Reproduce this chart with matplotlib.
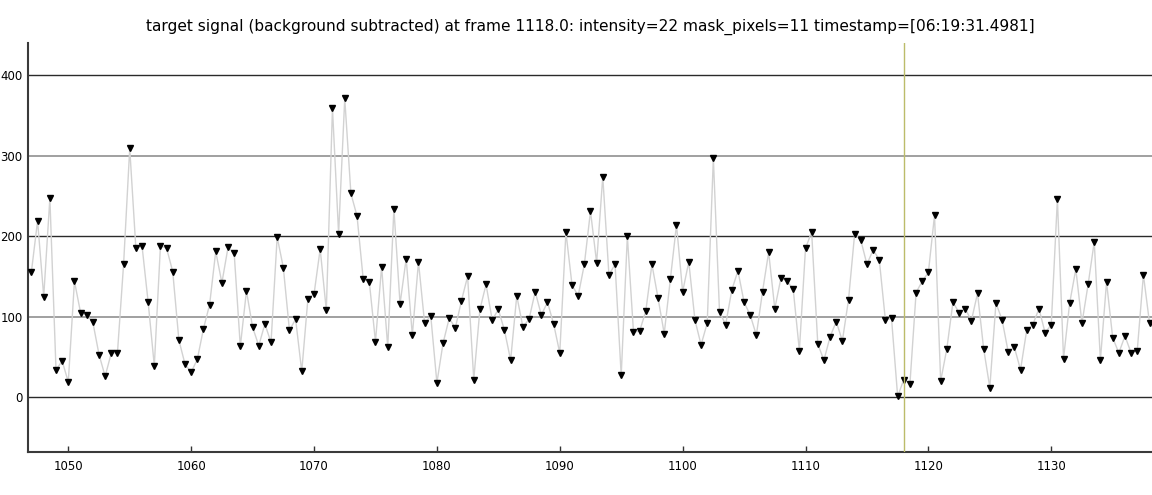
import numpy as np
import matplotlib
matplotlib.use('Agg')
import matplotlib.pyplot as plt

# frames (pas de 0.5) et intensites
frame_start = 1047.0
frame_step = 0.5
intensity = [
    156, 219, 125, 247, 34, 45, 19, 144, 105, 102,
    93, 53, 26, 55, 55, 165, 309, 185, 188, 118,
    39, 188, 185, 156, 71, 41, 31, 47, 85, 115,
    181, 142, 186, 179, 63, 132, 87, 64, 91, 68,
    199, 161, 83, 97, 32, 122, 128, 184, 108, 359,
    203, 371, 253, 225, 147, 143, 69, 162, 62, 234,
    116, 172, 77, 168, 92, 101, 18, 67, 98, 86,
    120, 150, 22, 109, 140, 96, 109, 83, 46, 126,
    87, 97, 131, 102, 118, 91, 55, 205, 139, 126,
    165, 231, 167, 274, 152, 165, 27, 200, 81, 82,
    107, 165, 123, 79, 147, 214, 131, 168, 96, 65,
    92, 297, 106, 90, 133, 157, 118, 102, 77, 131,
    180, 110, 148, 144, 134, 58, 185, 205, 66, 46,
    75, 94, 70, 121, 203, 195, 165, 183, 171, 96,
    98, 1, 22, 17, 130, 144, 155, 226, 20, 60,
    118, 105, 110, 95, 129, 60, 12, 117, 96, 56,
    62, 34, 83, 90, 110, 80, 90, 246, 48, 117,
    159, 92, 140, 193, 46, 143, 74, 55, 76, 55,
    58, 152, 92,
]
frames = frame_start + frame_step * np.arange(len(intensity))

current_frame = 1118.0
title = ('target signal (background subtracted) at frame 1118.0: '
         'intensity=22 mask_pixels=11 timestamp=[06:19:31.4981]')

major_y = [0, 200, 400]
minor_y = [100, 300]
x_ticks = [1050, 1060, 1070, 1080, 1090, 1100, 1110, 1120, 1130]
y_ticks = [0, 100, 200, 300, 400]

fig = plt.figure(figsize=(11.52, 4.95), dpi=100)
ax = fig.add_axes([0.0243, 0.0869, 0.9757, 0.8265])

# lignes de grille horizontales
for y in major_y:
    ax.axhline(y, color='#2a2a2a', lw=1.0, zorder=1)
for y in minor_y:
    ax.axhline(y, color='#a0a0a0', lw=1.4, zorder=1)

# courbe + marqueurs
ax.plot(frames, intensity, color='#d2d2d2', lw=1.0, zorder=2)
ax.plot(frames, intensity, linestyle='none', marker='v', color='black',
        markersize=4.8, zorder=3)

# frame courante
ax.axvline(current_frame, color='#bcbc6a', lw=1.0, zorder=4)

ax.set_xlim(1046.72, 1138.2)
ax.set_ylim(-68, 440)
ax.set_xticks(x_ticks)
ax.set_yticks(y_ticks)
ax.tick_params(axis='x', direction='in', length=4, width=1, color='#333333',
               labelsize=8.5, pad=6)
ax.tick_params(axis='y', length=0, labelsize=8.5, pad=4)

for side in ['top', 'right']:
    ax.spines[side].set_visible(False)
for side in ['left', 'bottom']:
    ax.spines[side].set_color('#3a3a3a')
    ax.spines[side].set_linewidth(1.5)

ax.set_title(title, fontsize=11.1, pad=9)

plt.savefig('out.png', dpi=100)
